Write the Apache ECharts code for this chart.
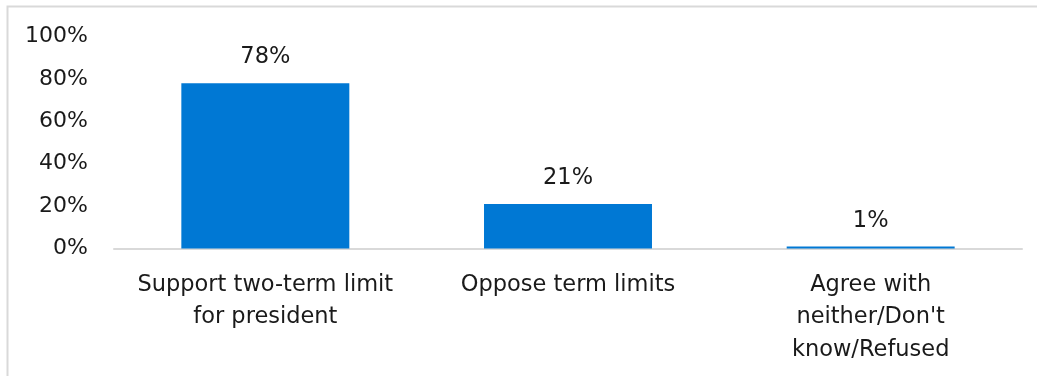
<!DOCTYPE html>
<html>
<head>
<meta charset="utf-8">
<script src="https://cdn.jsdelivr.net/npm/echarts@6/dist/echarts.min.js"></script>
<style>
html,body{margin:0;padding:0;background:#fff;}
#c{width:1037px;height:376px;}
</style>
</head>
<body>
<div id="c"></div>
<script>
var categories = ["Support two-term limit\nfor president", "Oppose term limits", "Agree with\nneither/Don't\nknow/Refused"];
var values = [78, 21, 1];
var yTicks = [0, 20, 40, 60, 80, 100];

var FONT = "DejaVu Sans";
var chart = echarts.init(document.getElementById('c'), null, {renderer: 'canvas'});
chart.setOption({
  animation: false,
  backgroundColor: '#fff',
  grid: {left: 114, right: 15, top: 36.5, bottom: 127.5, containLabel: false},
  graphic: [{
    type: 'polyline',
    shape: {points: [[7.5, 400], [7.5, 6.5], [1040, 6.5]]},
    style: {stroke: '#d9d9d9', lineWidth: 2, fill: null},
    silent: true
  }],
  xAxis: {
    type: 'category',
    data: categories,
    axisLine: {show: true, lineStyle: {color: '#d9d9d9', width: 2}},
    axisTick: {show: false},
    axisLabel: {
      interval: 0,
      margin: 20,
      color: '#1a1a1a',
      fontFamily: FONT,
      fontSize: 22.5,
      lineHeight: 32.5,
      align: 'center'
    }
  },
  yAxis: {
    type: 'value',
    min: yTicks[0],
    max: yTicks[yTicks.length - 1],
    interval: 20,
    splitLine: {show: false},
    axisLine: {show: false},
    axisTick: {show: false},
    axisLabel: {
      margin: 26,
      color: '#1a1a1a',
      fontFamily: FONT,
      fontSize: 22,
      formatter: function (v) { return v + '%'; }
    }
  },
  series: [{
    type: 'bar',
    data: values,
    barWidth: '55.5%',
    itemStyle: {color: '#0078D4'},
    label: {
      show: true,
      position: 'top',
      distance: 14,
      color: '#1a1a1a',
      fontFamily: FONT,
      fontSize: 22.5,
      formatter: function (p) { return p.value + '%'; }
    }
  }]
});
</script>
</body>
</html>
